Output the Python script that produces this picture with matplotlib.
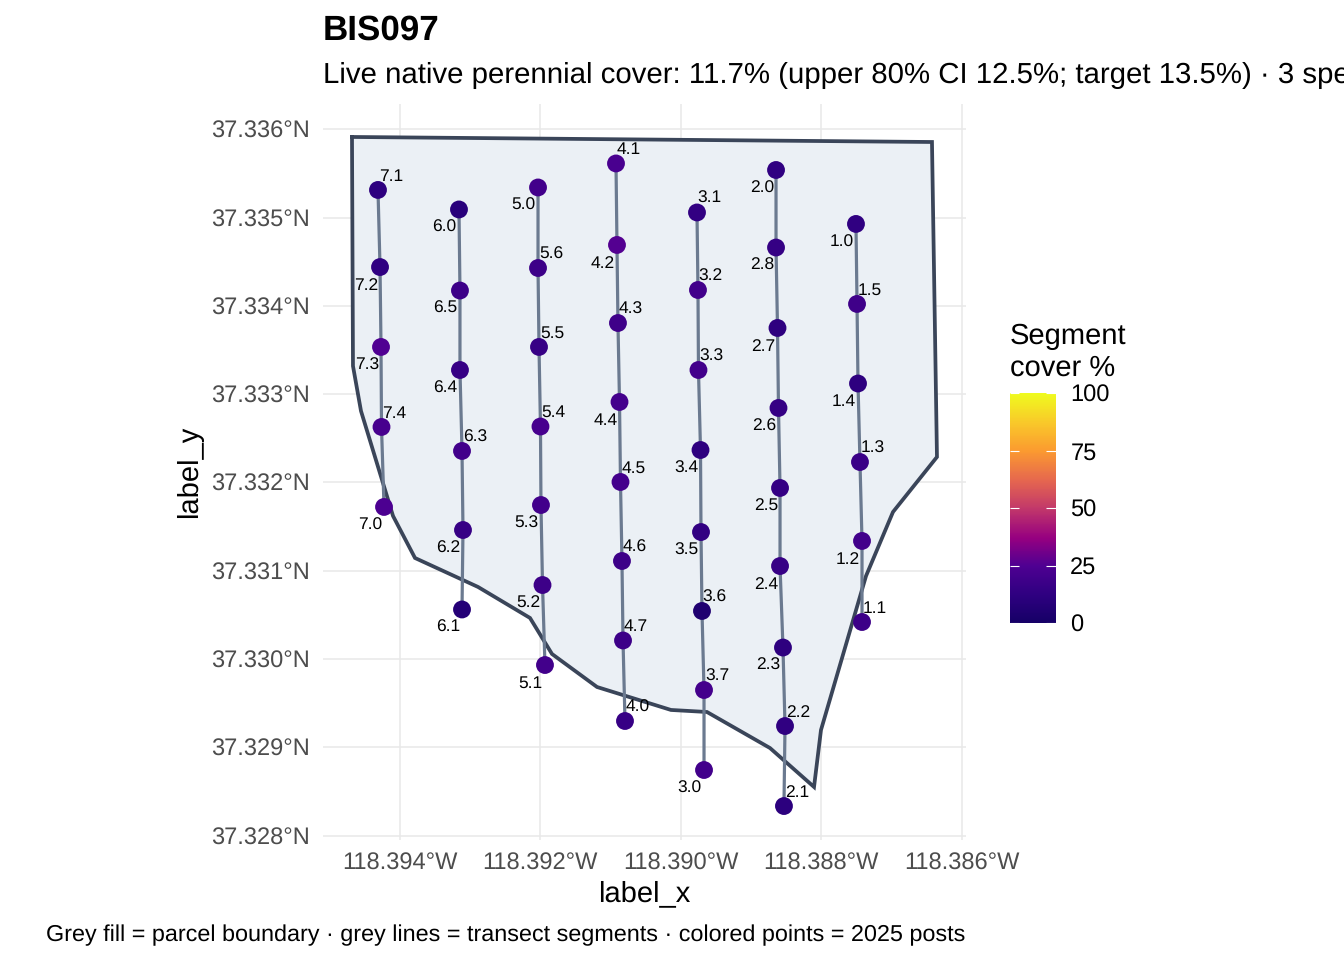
import matplotlib
matplotlib.use('Agg')
import matplotlib.pyplot as plt
from matplotlib.cm import ScalarMappable
from matplotlib.colors import LinearSegmentedColormap, Normalize

plt.rcParams['font.family'] = ['Liberation Sans', 'DejaVu Sans']
plt.rcParams['text.hinting'] = 'no_hinting'

W, H = 1344, 960

# parcel boundary
boundary_lon = [-118.394679, -118.386423, -118.386352, -118.386978, -118.387362, -118.388003,
                -118.388102, -118.388729, -118.389626, -118.390138, -118.391191, -118.391832,
                -118.392145, -118.392885, -118.393782, -118.394095, -118.394551, -118.394665,
                -118.394679]
boundary_lat = [37.335913, 37.335856, 37.332289, 37.331666, 37.330941, 37.329197,
                37.328552, 37.328993, 37.329401, 37.329424, 37.329684, 37.330058,
                37.330466, 37.330817, 37.331145, 37.331621, 37.332810, 37.333319,
                37.335913]

# posts, one list per transect, in the order the segments connect them
t1_names = ['1.0', '1.5', '1.4', '1.3', '1.2', '1.1']
t1_lon = [-118.387505, -118.387490, -118.387476, -118.387448, -118.387419, -118.387419]
t1_lat = [37.334928, 37.334022, 37.333121, 37.332232, 37.331338, 37.330420]
t1_cover = [13, 19, 12, 17, 20, 18]

t2_names = ['2.0', '2.8', '2.7', '2.6', '2.5', '2.4', '2.3', '2.2', '2.1']
t2_lon = [-118.388643, -118.388643, -118.388622, -118.388608, -118.388586, -118.388586,
          -118.388544, -118.388515, -118.388530]
t2_lat = [37.335539, 37.334661, 37.333750, 37.332844, 37.331938, 37.331054,
          37.330131, 37.329242, 37.328336]
t2_cover = [13, 15, 12, 15, 15, 16, 12, 13, 11]

t3_names = ['3.1', '3.2', '3.3', '3.4', '3.5', '3.6', '3.7', '3.0']
t3_lon = [-118.389768, -118.389754, -118.389747, -118.389718, -118.389711, -118.389697,
          -118.389668, -118.389668]
t3_lat = [37.335058, 37.334180, 37.333274, 37.332368, 37.331439, 37.330545,
          37.329650, 37.328744]
t3_cover = [14, 20, 20, 12, 14, 5, 21, 20]

t4_names = ['4.1', '4.2', '4.3', '4.4', '4.5', '4.6', '4.7', '4.0']
t4_lon = [-118.390921, -118.390907, -118.390893, -118.390871, -118.390857, -118.390836,
          -118.390821, -118.390793]
t4_lat = [37.335613, 37.334690, 37.333806, 37.332912, 37.332006, 37.331111,
          37.330211, 37.329299]
t4_cover = [23, 26, 19, 21, 21, 18, 18, 16]

t5_names = ['5.0', '5.6', '5.5', '5.4', '5.3', '5.2', '5.1']
t5_lon = [-118.392031, -118.392031, -118.392017, -118.391996, -118.391989, -118.391967, -118.391932]
t5_lat = [37.335341, 37.334429, 37.333535, 37.332634, 37.331745, 37.330839, 37.329933]
t5_cover = [20, 18, 16, 22, 20, 18, 20]

t6_names = ['6.0', '6.5', '6.4', '6.3', '6.2', '6.1']
t6_lon = [-118.393156, -118.393142, -118.393142, -118.393113, -118.393099, -118.393113]
t6_lat = [37.335092, 37.334174, 37.333274, 37.332357, 37.331462, 37.330562]
t6_cover = [10, 18, 16, 20, 16, 8]

t7_names = ['7.1', '7.2', '7.3', '7.4', '7.0']
t7_lon = [-118.394309, -118.394280, -118.394266, -118.394259, -118.394223]
t7_lat = [37.335313, 37.334440, 37.333535, 37.332629, 37.331723]
t7_cover = [12, 13, 25, 22, 24]

# these labels sit up and to the right of their post, the others down and to the left
upper_labels = ['7.1', '7.4', '6.3', '5.6', '5.5', '5.4', '4.1', '4.3', '4.5', '4.6', '4.7', '4.0',
                '3.1', '3.2', '3.3', '3.6', '3.7', '2.2', '2.1', '1.5', '1.3', '1.1']

lon_ticks = [-118.394, -118.392, -118.390, -118.388, -118.386]
lat_ticks = [37.328, 37.329, 37.330, 37.331, 37.332, 37.333, 37.334, 37.335, 37.336]
cover_ticks = [0, 25, 50, 75, 100]

# colour ramp
ramp_stops = [0, 0.12, 0.25, 0.37, 0.5, 0.62, 0.75, 0.87, 1]
ramp_colors = ['#150066', '#2e0080', '#4f0092', '#960080', '#c2386a', '#e5664f', '#fb9a30', '#f9c72a', '#effb1e']
cmap = LinearSegmentedColormap.from_list('cover', list(zip(ramp_stops, ramp_colors)))

transects = [
    (t1_names, t1_lon, t1_lat, t1_cover),
    (t2_names, t2_lon, t2_lat, t2_cover),
    (t3_names, t3_lon, t3_lat, t3_cover),
    (t4_names, t4_lon, t4_lat, t4_cover),
    (t5_names, t5_lon, t5_lat, t5_cover),
    (t6_names, t6_lon, t6_lat, t6_cover),
    (t7_names, t7_lon, t7_lat, t7_cover),
]

fig = plt.figure(figsize=(W / 100, H / 100), dpi=100)

# main panel, placed in pixels
left, right, top, bottom = 322.7, 965.7, 103.5, 839.5
ax = fig.add_axes([left / W, 1 - bottom / H, (right - left) / W, (bottom - top) / H])
ax.set_xlim(-118.395096, -118.385943)
ax.set_ylim(37.327957, 37.336292)

ax.set_axisbelow(True)
ax.grid(True, color='#e8e8e8', linewidth=1.1)
for s in ax.spines.values():
    s.set_visible(False)
ax.set_xticks(lon_ticks)
ax.set_xticklabels([f'{abs(v):.3f}°W' for v in lon_ticks])
ax.set_yticks(lat_ticks)
ax.set_yticklabels([f'{v:.3f}°N' for v in lat_ticks])
ax.tick_params(axis='both', length=0, labelsize=17, labelcolor='#4d4d4d', pad=9.5)

ax.fill(boundary_lon, boundary_lat, facecolor='#ebf0f5', edgecolor='none', zorder=1)
ax.plot(boundary_lon, boundary_lat, color='#3a4559', linewidth=2.7, zorder=2,
        solid_joinstyle='miter')

norm = Normalize(0, 100)
for names, lons, lats, cover in transects:
    ax.plot(lons, lats, color='#6b7a90', linewidth=2.3, zorder=3)
    ax.scatter(lons, lats, c=cover, cmap=cmap, norm=norm, s=165, linewidths=0, zorder=4)
    for name, lon, lat in zip(names, lons, lats):
        if name in upper_labels:
            offset = (9.3, 9.8)
        else:
            offset = (-10.3, -13.2)
        ax.annotate(name, (lon, lat), xytext=offset, textcoords='offset points',
                    ha='center', va='center', fontsize=12.5, color='black', zorder=5)

fig.text(644 / W, 1 - 894 / H, 'label_x', ha='center', va='center', fontsize=21)
fig.text(190 / W, 1 - 471.5 / H, 'label_y', ha='center', va='center', rotation=90, fontsize=21)

# titles run off the right edge just like the reference
fig.text(323 / W, 1 - 40 / H, 'BIS097', fontsize=25.2, fontweight='bold', ha='left', va='baseline')
fig.text(323 / W, 1 - 83 / H,
         'Live native perennial cover: 11.7% (upper 80% CI 12.5%; target 13.5%) · 3 species',
         fontsize=21.2, ha='left', va='baseline')
fig.text(965 / W, 1 - 935 / H,
         'Grey fill = parcel boundary · grey lines = transect segments · colored points = 2025 posts',
         fontsize=16.87, ha='right', va='center')

# colour legend
cax = fig.add_axes([1009.5 / W, 1 - 623.3 / H, 46.2 / W, 230 / H])
cb = fig.colorbar(ScalarMappable(norm=norm, cmap=cmap), cax=cax)
cb.outline.set_visible(False)
cb.set_ticks(cover_ticks)
cax.tick_params(axis='y', length=0, labelsize=17, labelcolor='black', pad=10.5)
cax.hlines(cover_ticks, 0, 0.2, color='white', linewidth=0.8, transform=cax.get_yaxis_transform())
cax.hlines(cover_ticks, 0.8, 1, color='white', linewidth=0.8, transform=cax.get_yaxis_transform())
fig.text(1010 / W, 1 - 344 / H, 'Segment', fontsize=21, ha='left', va='baseline')
fig.text(1010 / W, 1 - 375.5 / H, 'cover %', fontsize=21, ha='left', va='baseline')

fig.savefig('out.png', dpi=100)
